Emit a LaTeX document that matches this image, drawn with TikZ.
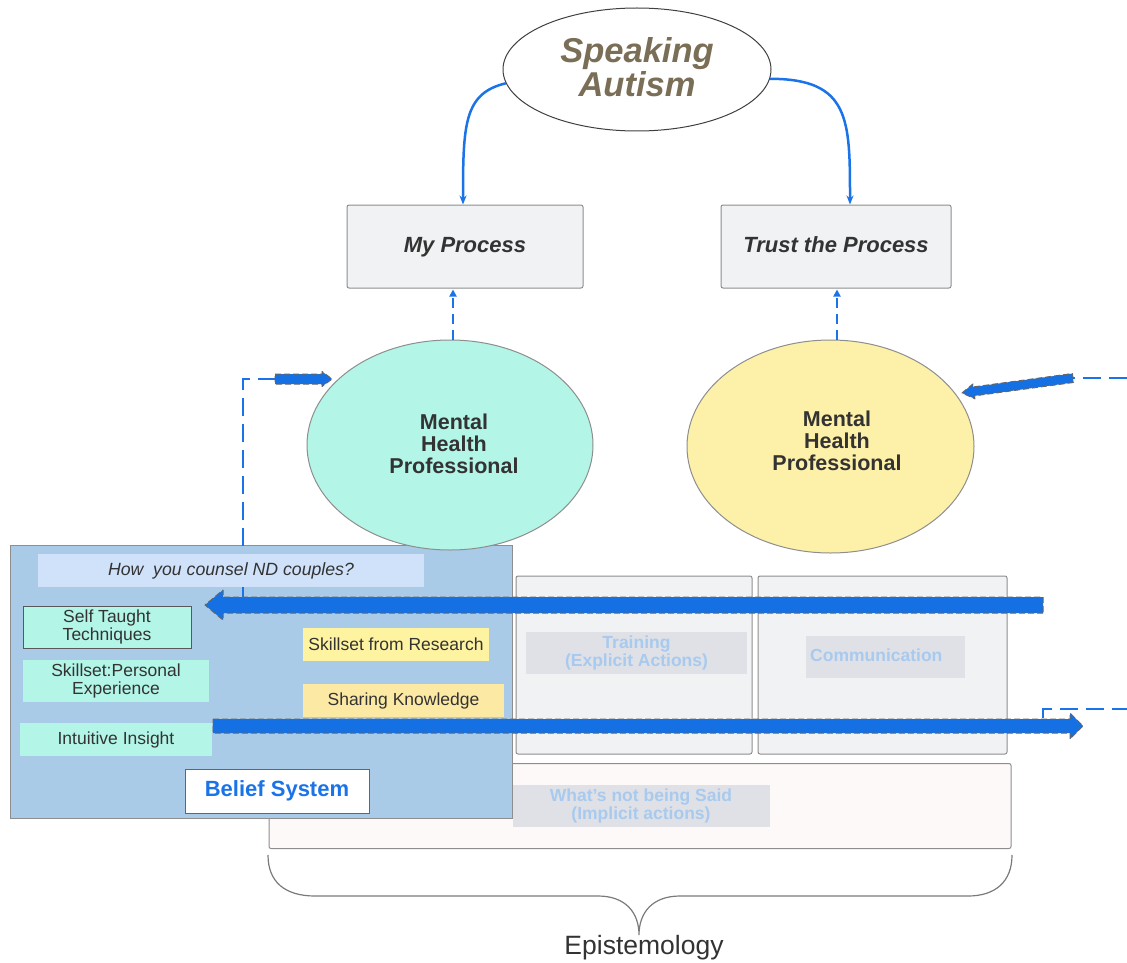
\documentclass[tikz,border=0pt]{standalone}
\usepackage{fontspec}
\setmainfont{Liberation Sans}
\usetikzlibrary{shapes.geometric,arrows.meta,calc}
\definecolor{cblue}{HTML}{1A73E8}
\definecolor{fatblue}{HTML}{1570E3}
\definecolor{boxgray}{HTML}{F1F2F4}
\definecolor{bordergray}{HTML}{8E8E8E}
\definecolor{mint}{HTML}{B3F5E7}
\definecolor{paleyellow}{HTML}{FDF0A8}
\definecolor{panelblue}{HTML}{A9CBE8}
\definecolor{howblue}{HTML}{CFE2FA}
\definecolor{resyellow}{HTML}{FEF3A0}
\definecolor{shareyellow}{HTML}{FCE9A4}
\definecolor{labelgray}{HTML}{DFE1E6}
\definecolor{labeltext}{HTML}{A8CAEE}
\definecolor{pinkwhite}{HTML}{FDF9F9}
\definecolor{satext}{HTML}{7B6E57}
\definecolor{darktext}{HTML}{333333}
\definecolor{bracegray}{HTML}{7A7A7A}
\tikzset{
  graybox/.style={rectangle, draw=bordergray, line width=1pt, fill=boxgray, rounded corners=2pt, inner sep=0pt, text=darktext},
  flatbox/.style={rectangle, inner sep=0pt, text=darktext, align=center, font=\fontsize{17.5}{18}\selectfont},
  labelbox/.style={rectangle, fill=labelgray, inner sep=0pt, text=labeltext, align=center, font=\fontsize{17.5}{18}\selectfont\bfseries},
  bigell/.style={ellipse, draw=bordergray, line width=1pt, inner sep=0pt, text=darktext, align=center},
  elltext/.style={inner sep=0pt, text=darktext, align=center, font=\fontsize{21.5}{22}\selectfont\bfseries},
  thinblue/.style={draw=cblue, line width=2.5pt},
  vdash/.style={draw=cblue, line width=2.6pt, dash pattern=on 10pt off 6pt},
  thindash/.style={draw=cblue, line width=2pt, dash pattern=on 18pt off 8pt},
  fatstyle/.style={fill=fatblue, draw=black!60, line width=1pt, dash pattern=on 6pt off 3pt, line join=round},
}
\newcommand\drawfat[5]{%
  \coordinate (fahead) at ($(#2)!#5!(#1)$);
  \draw[fatstyle] ($(#1)!#3!90:(#2)$) -- ($(fahead)!#3!-90:(#1)$) -- ($(fahead)!#4!-90:(#1)$) -- (#2)
     -- ($(fahead)!#4!90:(#1)$) -- ($(fahead)!#3!90:(#1)$) -- ($(#1)!#3!-90:(#2)$) -- cycle;
}
\begin{document}
\begin{tikzpicture}[x=1pt,y=-1pt]
\useasboundingbox (0,0) rectangle (1127,963);

% background boxes
\node[graybox, fill=pinkwhite, minimum width=742pt, minimum height=85pt] (bot) at (640,806) {};
\node[labelbox, minimum width=257pt, minimum height=42pt] (botlab) at (641,806) {What's not being Said\\(Implicit actions)};
\node[graybox, minimum width=236pt, minimum height=178pt] (trbox) at (634,665) {};
\node[graybox, minimum width=249pt, minimum height=178pt] (cobox) at (882.5,665) {};
\node[labelbox, minimum width=221pt, minimum height=42pt] (trlab) at (636.5,653) {Training\\(Explicit Actions)};
\node[labelbox, minimum width=159pt, minimum height=42pt] (colab) at (885.5,657) {};
\node[anchor=west, inner sep=0pt, text=labeltext, font=\fontsize{17.5}{18}\selectfont\bfseries] (cotext) at (810,655) {Communication};

% left panel
\node[rectangle, draw=bordergray, line width=1pt, fill=panelblue, minimum width=502pt, minimum height=273pt, inner sep=0pt] (panel) at (261,681.5) {};
\coordinate (lc0) at (243,598);
\coordinate (lc1) at (243,379);
\coordinate (lc2) at (275,379);
\draw[thindash] (lc0) -- (lc1) -- (lc2);
\node[flatbox, fill=howblue, minimum width=386pt, minimum height=33pt, font=\fontsize{17.7}{18}\selectfont\itshape] (how) at (231,570.5) {How\ \ you counsel ND couples?};
\node[flatbox, fill=mint, draw=black!65, line width=1pt, minimum width=168pt, minimum height=42pt] (self) at (107,627) {Self Taught\\Techniques};
\node[flatbox, fill=mint, minimum width=186pt, minimum height=42pt] (pers) at (116,681) {Skillset:Personal\\Experience};
\node[flatbox, fill=mint, minimum width=192pt, minimum height=33pt] (intu) at (116,739.5) {Intuitive Insight};
\node[flatbox, fill=resyellow, minimum width=186pt, minimum height=33pt] (res) at (396,644.5) {Skillset from Research};
\node[flatbox, fill=shareyellow, minimum width=201pt, minimum height=33pt] (share) at (403.5,700.5) {Sharing Knowledge};
\node[flatbox, fill=white, draw=cblue, line width=1pt, text=cblue, minimum width=184pt, minimum height=44pt, font=\fontsize{22}{22}\selectfont\bfseries] (belief) at (277,791) {Belief System};

% ellipses
\node[ellipse, draw=black!75, line width=1pt, fill=white, minimum width=268pt, minimum height=123pt, inner sep=0pt] (sa) at (637,69.5) {};
\node[inner sep=0pt, align=center, text=satext, font=\fontsize{34.5}{34}\selectfont\bfseries\itshape] (satxt) at (637,67) {Speaking\\Autism};
\node[graybox, minimum width=236pt, minimum height=83pt, text height=16pt, text depth=5pt, font=\fontsize{22}{22}\selectfont\bfseries\itshape] (mp) at (465,246.5) {My Process};
\node[graybox, minimum width=230pt, minimum height=83pt, text height=16pt, text depth=5pt, font=\fontsize{22}{22}\selectfont\bfseries\itshape] (tp) at (836,246.5) {Trust the Process};
\node[bigell, fill=mint, minimum width=286pt, minimum height=210pt] (lh) at (450,445) {};
\node[elltext] (lhtxt) at (454,444) {Mental\\Health\\Professional};
\node[bigell, fill=paleyellow, minimum width=287pt, minimum height=213pt] (rh) at (830.5,446.5) {};
\node[elltext] (rhtxt) at (837,441) {Mental\\Health\\Professional};

% connectors
\draw[thinblue, -{Stealth[length=9pt,width=7pt]}] (sa.186) .. controls +(-42,10) and +(0,-80) .. ($(mp.north)+(-2,0)$);
\draw[thinblue, -{Stealth[length=9pt,width=7pt]}] (sa.356) .. controls +(80,0) and +(0,-85) .. ($(tp.north)+(14,0)$);
\draw[vdash, -{Triangle[length=7pt,width=7pt]}] ($(lh.north)+(3,0)$) -- ($(mp.south)+(-12,1)$);
\draw[vdash, -{Triangle[length=7pt,width=7pt]}] ($(rh.north)+(6.5,0)$) -- ($(tp.south)+(1,1)$);

\coordinate (lt) at (332,379);
\drawfat{lc2}{lt}{5pt}{7.5pt}{10pt}

\coordinate (rc0) at (1127,378);
\coordinate (rc1) at (1073,378);
\coordinate (rt) at (962,393);
\draw[thindash] (rc0) -- (rc1);
\drawfat{rc1}{rt}{4.5pt}{7.5pt}{12pt}

\coordinate (ta0) at (1043,605);
\coordinate (ta1) at (205,605);
\drawfat{ta0}{ta1}{8pt}{15pt}{18pt}

\coordinate (bd0) at (1043,718);
\coordinate (bd1) at (1043,709);
\coordinate (bd2) at (1127,709);
\draw[thindash] (bd0) -- (bd1) -- (bd2);
\coordinate (ba0) at (213,726);
\coordinate (ba1) at (1083,726);
\drawfat{ba0}{ba1}{7pt}{13pt}{13pt}

% brace
\draw[bracegray, line width=1.2pt] (268,855) .. controls (268,882) and (285,896) .. (315,896) -- (598,896)
  .. controls (625,896) and (639,912) .. (639,935) .. controls (639,912) and (653,896) .. (680,896)
  -- (968,896) .. controls (995,896) and (1012,882) .. (1012,855);
\node[text=darktext, inner sep=0pt, font=\fontsize{26.5}{27}\selectfont] (epi) at (644,948) {Epistemology};
\end{tikzpicture}
\end{document}
